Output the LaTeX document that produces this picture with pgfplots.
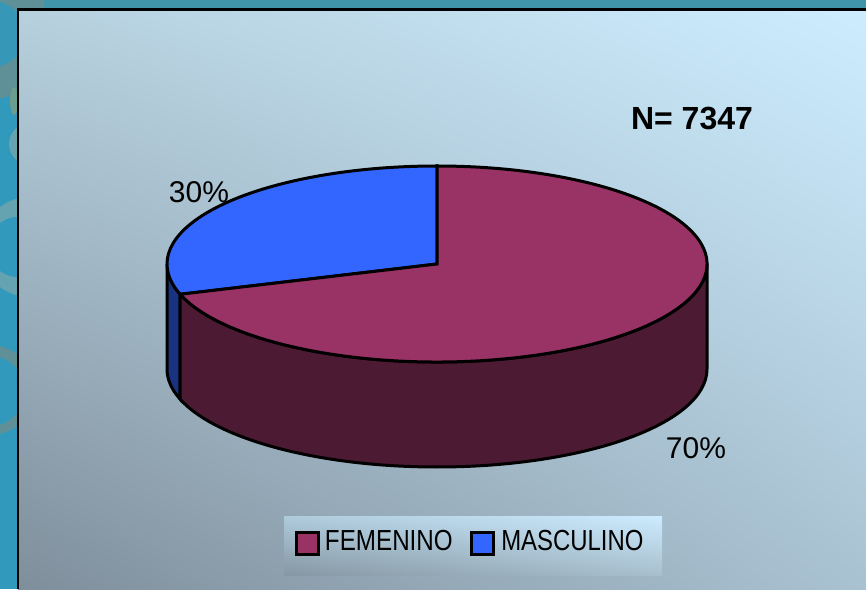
\documentclass[border=0pt]{standalone}
\usepackage{fontspec}
\setmainfont{Liberation Sans}
\usepackage{pgfplots}
\usepackage{pgfplotstable}
\usetikzlibrary{shadings}
\pgfplotsset{compat=1.18}
\definecolor{femtop}{HTML}{993366}
\definecolor{femside}{HTML}{4D1A33}
\definecolor{mastop}{HTML}{3366FF}
\definecolor{masside}{HTML}{1A3380}
\definecolor{teal1}{HTML}{3199BC}
\definecolor{teal2}{HTML}{4195A8}
\definecolor{ringa}{HTML}{66A3B0}
\definecolor{ringb}{HTML}{5F9098}
\definecolor{ul}{HTML}{B6D0DE}\definecolor{ur}{HTML}{CDEDFF}
\definecolor{ll}{HTML}{7F8E9B}\definecolor{lr}{HTML}{A9C2D2}
\definecolor{lul}{HTML}{AECBDC}\definecolor{lur}{HTML}{CDEBFF}
\definecolor{lll}{HTML}{8697A3}\definecolor{llr}{HTML}{A8C0CE}
\pgfplotstableread{
sexo valor
FEMENINO 70
MASCULINO 30
}\datos
\pgfplotstablegetelem{0}{valor}\of\datos\let\fem\pgfplotsretval
\pgfplotstablegetelem{1}{valor}\of\datos\let\mas\pgfplotsretval
% first slice starts at the top and runs counterclockwise
\pgfmathsetmacro\cut{90+3.6*\mas}
\def\cx{437}\def\cy{325}\def\rx{270}\def\ry{98}\def\dep{105}
\begin{document}
\begin{tikzpicture}
\begin{axis}[
  scale only axis, width=866pt, height=589pt,
  xmin=0, xmax=866, ymin=0, ymax=589,
  hide axis,
  legend columns=2,
  legend cell align=left,
  legend style={at={(axis cs:470.5,47)}, anchor=center, draw=none, fill=none,
    inner sep=0pt, outer sep=0pt,
    font=\fontsize{29}{30}\selectfont,
    /tikz/every even column/.style={column sep=15pt}},
  legend image code/.code={
    \path[draw=none, fill=none] (0pt,0pt) -- (26pt,0pt);
    \draw[#1] (1pt,-14pt) rectangle (23pt,8pt);},
]
% slide behind the chart
\fill[teal1] (0,0) rectangle (866,589);
\fill[teal2] (0,581) rectangle (866,589);
\fill[ringb] (0,581) rectangle (44,589);
\fill[ringb] (-8,540) circle[radius=50];
\fill[teal1!70!teal2] (-8,555) circle[radius=33];
\fill[ringa!80!olive] (14,488) ellipse[x radius=4, y radius=14];
\fill[ringa] (30,445) circle[radius=21];
\fill[ringa] (30,342) circle[radius=50];
\fill[teal1] (18,342) circle[radius=30];
\fill[ringb] (-10,199) circle[radius=45];
\fill[teal1] (-10,198) circle[radius=35];
% panel
\shade[upper left=ul, upper right=ur, lower left=ll, lower right=lr] (18,0) rectangle (866,580);
\draw[black, line width=2.5pt] (18,0) -- (18,579.5);
\draw[black, line width=3pt] (16.75,579.5) -- (866,579.5);
% pie sides
\filldraw[fill=masside, draw=black, line width=3pt]
  (\cx-\rx,\cy) arc[start angle=180, end angle=\cut, x radius=\rx, y radius=\ry]
  -- ++(0,-\dep) arc[start angle=\cut, end angle=180, x radius=\rx, y radius=\ry] -- cycle;
\filldraw[fill=femside, draw=black, line width=3pt]
  ({\cx+\rx*cos(\cut)},{\cy+\ry*sin(\cut)})
  arc[start angle=\cut, end angle=360, x radius=\rx, y radius=\ry]
  -- ++(0,-\dep) arc[start angle=360, end angle=\cut, x radius=\rx, y radius=\ry] -- cycle;
% pie top
\filldraw[fill=mastop, draw=black, line width=3pt]
  (\cx,\cy) -- (\cx,\cy+\ry)
  arc[start angle=90, end angle=\cut, x radius=\rx, y radius=\ry] -- cycle;
\filldraw[fill=femtop, draw=black, line width=3pt]
  (\cx,\cy) -- ({\cx+\rx*cos(\cut)},{\cy+\ry*sin(\cut)})
  arc[start angle=\cut, end angle=450, x radius=\rx, y radius=\ry] -- cycle;
% labels
\node[font=\fontsize{30}{32}\selectfont] at (199,397) {\mas\%};
\node[font=\fontsize{30}{32}\selectfont] at (696,141) {\fem\%};
\node[font=\fontsize{32}{34}\selectfont\bfseries] at (692,470) {N= 7347};
% legend panel
\shade[upper left=lul, upper right=lur, lower left=lll, lower right=llr] (284,14) rectangle (662,73);
\addlegendimage{fill=femtop, draw=black, line width=3pt}
\addlegendentry{\hspace{1pt}\scalebox{0.835}[1]{FEMENINO}}
\addlegendimage{fill=mastop, draw=black, line width=3pt}
\addlegendentry{\hspace{3pt}\scalebox{0.825}[1]{MASCULINO}}
\end{axis}
\end{tikzpicture}
\end{document}
